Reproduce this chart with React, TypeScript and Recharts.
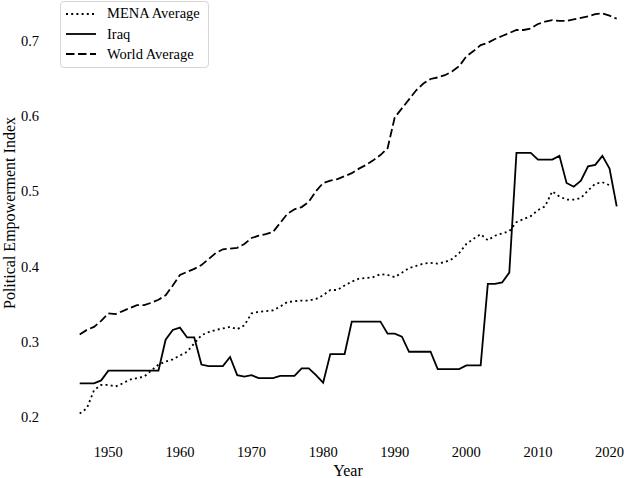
import React from 'react';
import { LineChart, Line, XAxis, YAxis, Label } from 'recharts';

// years 1946..2021
const years = [
  1946, 1947, 1948, 1949, 1950, 1951, 1952, 1953, 1954, 1955,
  1956, 1957, 1958, 1959, 1960, 1961, 1962, 1963, 1964, 1965,
  1966, 1967, 1968, 1969, 1970, 1971, 1972, 1973, 1974, 1975,
  1976, 1977, 1978, 1979, 1980, 1981, 1982, 1983, 1984, 1985,
  1986, 1987, 1988, 1989, 1990, 1991, 1992, 1993, 1994, 1995,
  1996, 1997, 1998, 1999, 2000, 2001, 2002, 2003, 2004, 2005,
  2006, 2007, 2008, 2009, 2010, 2011, 2012, 2013, 2014, 2015,
  2016, 2017, 2018, 2019, 2020, 2021,
];

const menaAverage: (number | null)[] = [
  0.205, 0.212, 0.236, 0.243, 0.243, 0.241, 0.245, 0.25, 0.252, 0.254,
  0.262, 0.27, 0.274, 0.277, 0.282, 0.287, 0.298, 0.309, 0.313, 0.316,
  0.318, 0.32, 0.317, 0.322, 0.338, 0.34, 0.341, 0.342, 0.347, 0.353,
  0.354, 0.355, 0.355, 0.357, 0.362, 0.369, 0.369, 0.375, 0.38, 0.384,
  0.385, 0.386, 0.39, 0.389, 0.386, 0.392, 0.398, 0.401, 0.404, 0.405,
  0.404, 0.406, 0.41, 0.418, 0.43, 0.437, 0.443, 0.435, 0.441, 0.444,
  0.447, 0.459, 0.463, 0.467, 0.475, 0.48, 0.5, 0.493, 0.489, 0.489,
  0.491, 0.501, 0.51, 0.512, 0.508, null,
];

const iraq = [
  0.245, 0.245, 0.245, 0.249, 0.262, 0.262, 0.262, 0.262, 0.262, 0.262,
  0.262, 0.262, 0.303, 0.316, 0.319, 0.306, 0.306, 0.27, 0.268, 0.268,
  0.268, 0.28, 0.256, 0.254, 0.256, 0.252, 0.252, 0.252, 0.255, 0.255,
  0.255, 0.265, 0.265, 0.256, 0.246, 0.284, 0.284, 0.284, 0.327, 0.327,
  0.327, 0.327, 0.327, 0.311, 0.311, 0.307, 0.287, 0.287, 0.287, 0.287,
  0.264, 0.264, 0.264, 0.264, 0.269, 0.269, 0.269, 0.377, 0.377, 0.379,
  0.392, 0.551, 0.551, 0.551, 0.542, 0.542, 0.542, 0.547, 0.511, 0.506,
  0.514, 0.533, 0.535, 0.547, 0.53, 0.48,
];

const worldAverage = [
  0.31, 0.316, 0.32, 0.328, 0.338, 0.337, 0.341, 0.345, 0.349, 0.349,
  0.352, 0.356, 0.362, 0.375, 0.389, 0.393, 0.397, 0.402, 0.41, 0.418,
  0.423, 0.424, 0.425, 0.43, 0.438, 0.441, 0.443, 0.446, 0.458, 0.47,
  0.476, 0.479, 0.486, 0.5, 0.511, 0.514, 0.516, 0.52, 0.524, 0.53,
  0.535, 0.541, 0.548, 0.557, 0.598, 0.61, 0.622, 0.634, 0.643, 0.649,
  0.651, 0.654, 0.659, 0.666, 0.679, 0.686, 0.694, 0.697, 0.702, 0.706,
  0.71, 0.714, 0.714, 0.716, 0.722, 0.725, 0.727, 0.726, 0.726, 0.728,
  0.73, 0.732, 0.735, 0.736, 0.733, 0.729,
];

const xTicks = [1950, 1960, 1970, 1980, 1990, 2000, 2010, 2020];
const yTicks = [0.2, 0.3, 0.4, 0.5, 0.6, 0.7];

const chartData = years.map((year, i) => ({
  year,
  mena: menaAverage[i],
  iraq: iraq[i],
  world: worldAverage[i],
}));

const FONT = '"Liberation Serif", "Times New Roman", serif';
const DOTTED = '2 3.2';
const DASHED = '8.5 3.5';

const legendItems = [
  { name: 'MENA Average', dash: DOTTED },
  { name: 'Iraq', dash: undefined },
  { name: 'World Average', dash: DASHED },
];

export default function App() {
  return (
    <div style={{ position: 'absolute', left: 0, top: 0, width: 624, height: 478, background: '#fff', fontFamily: FONT }}>
      <LineChart
        width={624}
        height={478}
        data={chartData}
        margin={{ top: 10.4, right: 7.3, bottom: 0, left: 0 }}
      >
        <XAxis
          dataKey="year"
          type="number"
          domain={[1946, 2021]}
          ticks={xTicks}
          axisLine={false}
          tickLine={false}
          tickSize={0}
          tickMargin={14.8}
          height={45.6}
          tick={{ fill: '#000', fontSize: 14.5, fontFamily: FONT }}
        >
          <Label
            content={() => (
              <text x={348} y={476} textAnchor="middle" fill="#000" fontSize={16} fontFamily={FONT}>
                Year
              </text>
            )}
          />
        </XAxis>
        <YAxis
          type="number"
          domain={[0.18, 0.74]}
          ticks={yTicks}
          tickFormatter={(v: number) => v.toFixed(1)}
          axisLine={false}
          tickLine={false}
          tickSize={0}
          tickMargin={40.7}
          width={79.7}
          tick={{ fill: '#000', fontSize: 14.5, fontFamily: FONT }}
        >
          <Label
            content={() => (
              <text
                x={14.5}
                y={213}
                transform="rotate(-90 14.5 213)"
                textAnchor="middle"
                fill="#000"
                fontSize={16}
                fontFamily={FONT}
              >
                Political Empowerment Index
              </text>
            )}
          />
        </YAxis>
        <Line
          type="linear"
          dataKey="mena"
          stroke="#000"
          strokeWidth={1.8}
          strokeDasharray={DOTTED}
          dot={false}
          isAnimationActive={false}
        />
        <Line
          type="linear"
          dataKey="iraq"
          stroke="#000"
          strokeWidth={1.8}
          dot={false}
          isAnimationActive={false}
        />
        <Line
          type="linear"
          dataKey="world"
          stroke="#000"
          strokeWidth={1.8}
          strokeDasharray={DASHED}
          dot={false}
          isAnimationActive={false}
        />
      </LineChart>

      {/* legend box, top left */}
      <div
        style={{
          position: 'absolute',
          left: 60,
          top: 1,
          width: 147,
          height: 65,
          border: '1px solid #d6d6d6',
          borderRadius: 4,
          background: '#fff',
        }}
      >
        {legendItems.map((item, i) => (
          <div
            key={item.name}
            style={{
              position: 'absolute',
              left: 5,
              top: 1.7 + i * 20.3,
              height: 20,
              display: 'flex',
              alignItems: 'center',
              fontSize: 14.5,
              color: '#000',
              whiteSpace: 'nowrap',
            }}
          >
            <svg width={30} height={20} style={{ marginRight: 11 }}>
              <line x1={0} y1={10} x2={30} y2={10} stroke="#000" strokeWidth={1.8} strokeDasharray={item.dash} />
            </svg>
            <span>{item.name}</span>
          </div>
        ))}
      </div>
    </div>
  );
}
